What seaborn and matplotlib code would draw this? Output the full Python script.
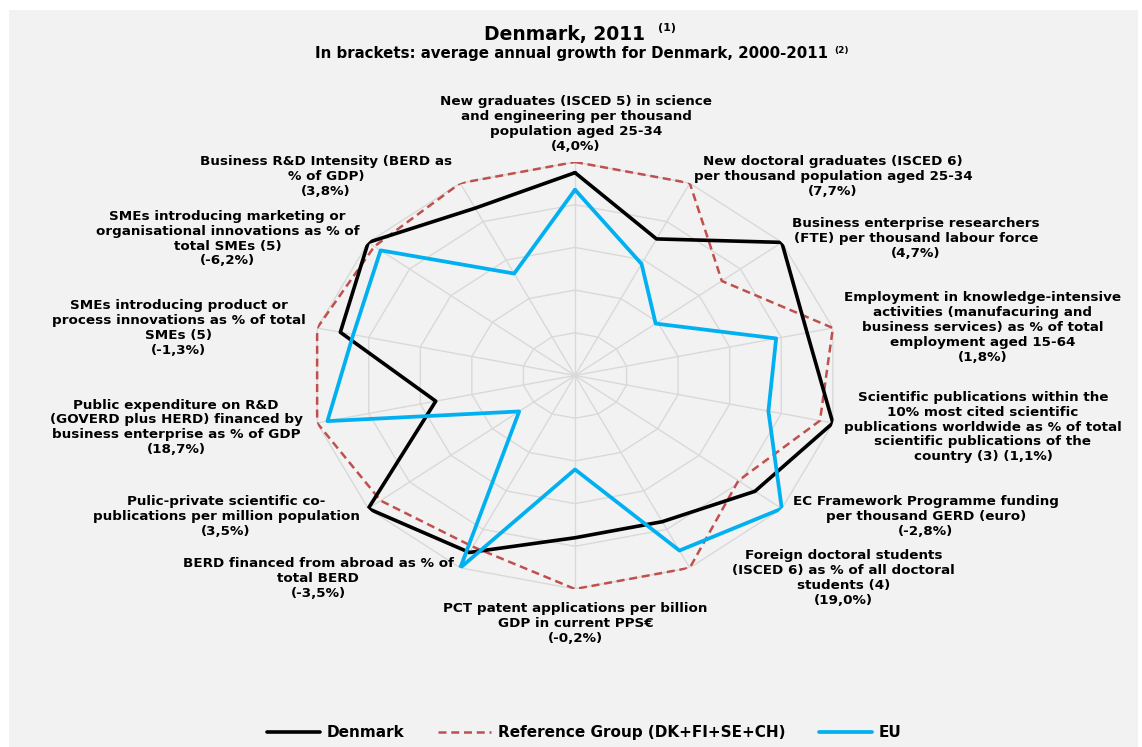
import numpy as np
import pandas as pd
import matplotlib
matplotlib.use("Agg")
import matplotlib.pyplot as plt
from matplotlib.lines import Line2D
from matplotlib.patches import Rectangle
import seaborn as sns

# ---- data -------------------------------------------------------------
labels = [
    "New graduates (ISCED 5) in science\nand engineering per thousand\npopulation aged 25-34\n(4,0%)",
    "New doctoral graduates (ISCED 6)\nper thousand population aged 25-34\n(7,7%)",
    "Business enterprise researchers\n(FTE) per thousand labour force\n(4,7%)",
    "Employment in knowledge-intensive\nactivities (manufacuring and\nbusiness services) as % of total\nemployment aged 15-64\n(1,8%)",
    "Scientific publications within the\n10% most cited scientific\npublications worldwide as % of total\nscientific publications of the\ncountry (3) (1,1%)",
    "EC Framework Programme funding\nper thousand GERD (euro)\n(-2,8%)",
    "Foreign doctoral students\n(ISCED 6) as % of all doctoral\nstudents (4)\n(19,0%)",
    "PCT patent applications per billion\nGDP in current PPS\u20ac\n(-0,2%)",
    "BERD financed from abroad as % of\ntotal BERD\n(-3,5%)",
    "Pulic-private scientific co-\npublications per million population\n(3,5%)",
    "Public expenditure on R&D\n(GOVERD plus HERD) financed by\nbusiness enterprise as % of GDP\n(18,7%)",
    "SMEs introducing product or\nprocess innovations as % of total\nSMEs (5)\n(-1,3%)",
    "SMEs introducing marketing or\norganisational innovations as % of\ntotal SMEs (5)\n(-6,2%)",
    "Business R&D Intensity (BERD as\n% of GDP)\n(3,8%)",
]

denmark = [0.95, 0.71, 1.00, 0.90, 1.00, 0.87, 0.76, 0.76, 0.92, 1.00, 0.54, 0.91, 1.00, 0.87]
reference_group = [1.00, 1.00, 0.71, 1.00, 0.95, 0.79, 1.00, 1.00, 0.89, 0.94, 1.00, 1.00, 0.97, 1.00]
eu = [0.87, 0.58, 0.39, 0.78, 0.75, 1.00, 0.91, 0.44, 1.00, 0.27, 0.96, 0.86, 0.94, 0.53]

series_names = ["Denmark", "Reference Group (DK+FI+SE+CH)", "EU"]
ring_levels = [0.2, 0.4, 0.6, 0.8, 1.0]

# ---- styling ----------------------------------------------------------
sns.set_theme(style="white")
plt.rcParams["font.family"] = ["DejaVu Sans"]
plt.rcParams["font.weight"] = "bold"
plt.rcParams["text.color"] = "black"

W, H = 1142, 747
fig = plt.figure(figsize=(W / 100, H / 100), dpi=100, facecolor="white")
fig.patches.append(Rectangle((9 / W, 0), (1138 - 9) / W, (H - 10) / H,
                             transform=fig.transFigure, facecolor="#F2F2F2",
                             edgecolor="none", zorder=-10))

# elliptical radar area (plot area is wider than tall)
cx, cy, rx, ry = 575, 375.5, 264.5, 213.5
ax = fig.add_axes([(cx - rx) / W, (H - cy - ry) / H, 2 * rx / W, 2 * ry / H],
                  projection="polar")
ax.set_theta_zero_location("N")
ax.set_theta_direction(-1)
ax.set_aspect("auto")
ax.set_ylim(0, 1.0)
ax.grid(False)
ax.set_xticks([])
ax.set_yticks([])
ax.spines["polar"].set_visible(False)
ax.patch.set_alpha(0)

n = len(labels)
theta = np.arange(n) * 2 * np.pi / n
theta_closed = np.append(theta, 2 * np.pi)

grid_color = "#D9D9D9"
for lvl in ring_levels:
    ax.plot(theta_closed, [lvl] * (n + 1), color=grid_color, lw=1.0, zorder=1)
for t in theta:
    ax.plot([t, t], [0, 1.0], color=grid_color, lw=1.0, zorder=1)

colors = ["#000000", "#C0504D", "#00B0F0"]
styles = ["-", (0, (3.2, 1.9)), "-"]
widths = [2.6, 1.8, 2.7]
zorders = [4, 3, 5]
for name, vals, c, ls, lw, z in zip(series_names, [denmark, reference_group, eu],
                                     colors, styles, widths, zorders):
    df = pd.DataFrame({"theta": theta_closed, "value": np.append(vals, vals[0])})
    sns.lineplot(data=df, x="theta", y="value", ax=ax, sort=False, estimator=None,
                 color=c, linestyle=ls, lw=lw, zorder=z, legend=False)
ax.set_xlabel("")
ax.set_ylabel("")

# category labels around the radar
label_pos = [(576, 124.1), (833, 176.8), (916, 238.7), (982.5, 327.6),
             (983, 427.2), (925.7, 516.7), (843.8, 578.2), (575.4, 623.4),
             (318.3, 578.4), (226, 516.7), (176, 427.4), (178.8, 328),
             (227.6, 238.7), (326, 176.8)]
for lab, (x, y) in zip(labels, label_pos):
    fig.text(x / W, 1 - y / H, lab, ha="center", va="center",
             multialignment="center", fontsize=9.7, fontweight="bold",
             linespacing=1.18, color="black")

# titles
fig.text(564.8 / W, 1 - 34.3 / H, "Denmark, 2011", ha="center", va="center",
         fontsize=13.5, fontweight="bold", color="black")
fig.text(658 / W, 1 - 28 / H, "(1)", ha="left", va="center", fontsize=8,
         fontweight="bold", color="black")
fig.text(571.7 / W, 1 - 53.8 / H,
         "In brackets: average annual growth for Denmark, 2000-2011",
         ha="center", va="center", fontsize=10.8, fontweight="bold", color="black")
fig.text(834 / W, 1 - 50.5 / H, "(2)", ha="left", va="center", fontsize=6.5,
         fontweight="bold", color="black")

# legend
handles = [Line2D([], [], color=c, linestyle=ls, lw=lw)
           for c, ls, lw in zip(colors, styles, widths)]
leg = fig.legend(handles, series_names, loc="center",
                 bbox_to_anchor=(584 / W, 1 - 732.7 / H),
                 ncol=3, frameon=False, handlelength=3.5, handletextpad=0.4,
                 columnspacing=2.2, prop={"size": 11, "weight": "bold"})
for txt in leg.get_texts():
    txt.set_color("black")

fig.savefig("out.png", dpi=100, facecolor=fig.get_facecolor())
